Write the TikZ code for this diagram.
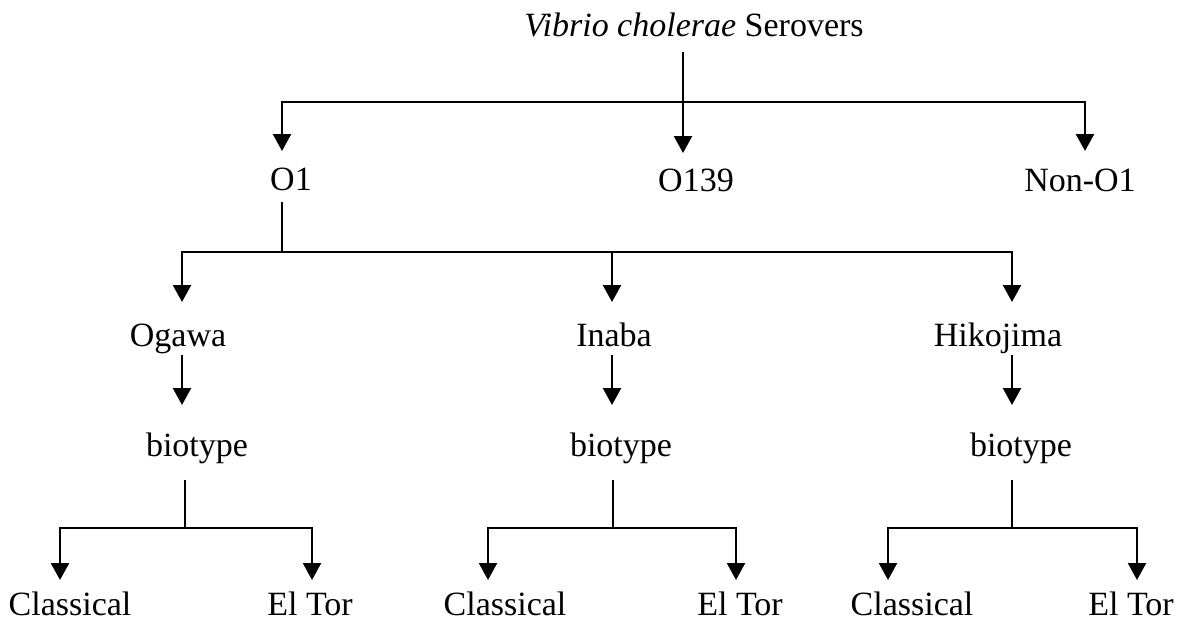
\documentclass[tikz,border=0pt]{standalone}
\usepackage{fontspec}
\setmainfont{Liberation Serif}
\usetikzlibrary{arrows.meta}
\begin{document}
\begin{tikzpicture}[x=1pt,y=-1pt,
  lbl/.style={inner sep=0pt, anchor=base, text height=23pt, text depth=7pt,
              font=\fontsize{34}{40}\selectfont},
  ln/.style={line width=2.4pt},
  arr/.style={line width=2.4pt, -{Triangle[width=18pt,length=17pt]}}]
\useasboundingbox (0,0) rectangle (1192,624);
% nodes
\node[lbl] (title) at (694,36) {\textit{Vibrio cholerae} Serovers};
\node[lbl] (O1) at (291,190) {O1};
\node[lbl] (O139) at (696,191) {O139};
\node[lbl] (non) at (1080,191) {Non-O1};
\node[lbl] (ogawa) at (178,346) {Ogawa};
\node[lbl] (inaba) at (614,346) {Inaba};
\node[lbl] (hiko) at (998,346) {Hikojima};
\node[lbl] (bt1) at (197,456) {biotype};
\node[lbl] (bt2) at (621,456) {biotype};
\node[lbl] (bt3) at (1021,456) {biotype};
\node[lbl] (cl1) at (70,615) {Classical};
\node[lbl] (et1) at (310,615) {El Tor};
\node[lbl] (cl2) at (505,615) {Classical};
\node[lbl] (et2) at (740,615) {El Tor};
\node[lbl] (cl3) at (912,615) {Classical};
\node[lbl] (et3) at (1131,615) {El Tor};
% junctions and arrow tips
\coordinate (J0) at (683,102);
\coordinate (tO1) at (282,151);
\coordinate (tO139) at (683,153);
\coordinate (tnon) at (1085,151);
\coordinate (J1) at (282,252);
\coordinate (tog) at (182,302);
\coordinate (tin) at (612,302);
\coordinate (thi) at (1012,302);
\coordinate (tb1) at (182,405);
\coordinate (tb2) at (612,405);
\coordinate (tb3) at (1012,405);
\coordinate (K1) at (185,528);
\coordinate (K2) at (613,528);
\coordinate (K3) at (1012,528);
\coordinate (tc1) at (60,580);
\coordinate (te1) at (312,580);
\coordinate (tc2) at (488,580);
\coordinate (te2) at (736,580);
\coordinate (tc3) at (888,580);
\coordinate (te3) at (1137,580);
% level 1
\draw[ln, shorten <=9pt] (title.south -| J0) -- (J0);
\draw[arr] (J0) -- (tO139);
\draw[arr] (J0) -| (tO1);
\draw[arr] (J0) -| (tnon);
% level 2
\draw[ln, shorten <=5pt] (O1.south -| J1) -- (J1);
\draw[arr] (J1) -| (tog);
\draw[arr] (J1) -| (tin);
\draw[arr] (J1) -| (thi);
% to biotype
\draw[arr, shorten <=2pt] (ogawa.south -| tb1) -- (tb1);
\draw[arr, shorten <=2pt] (inaba.south -| tb2) -- (tb2);
\draw[arr, shorten <=2pt] (hiko.south -| tb3) -- (tb3);
% biotype splits
\draw[ln, shorten <=17pt] (bt1.south -| K1) -- (K1);
\draw[ln, shorten <=17pt] (bt2.south -| K2) -- (K2);
\draw[ln, shorten <=17pt] (bt3.south -| K3) -- (K3);
\draw[arr] (K1) -| (tc1);
\draw[arr] (K1) -| (te1);
\draw[arr] (K2) -| (tc2);
\draw[arr] (K2) -| (te2);
\draw[arr] (K3) -| (tc3);
\draw[arr] (K3) -| (te3);
\end{tikzpicture}
\end{document}
